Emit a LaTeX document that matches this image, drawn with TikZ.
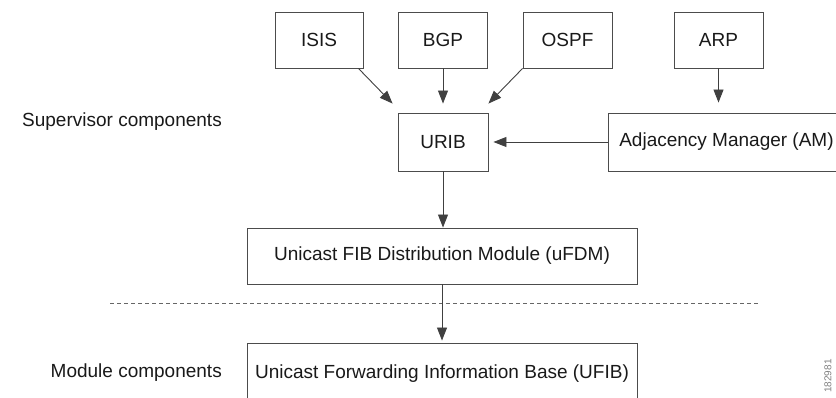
\documentclass[tikz,border=0pt]{standalone}
\usepackage{fontspec}
\setmainfont{Liberation Sans}
\usetikzlibrary{arrows.meta}

\begin{document}
\begin{tikzpicture}[x=1pt,y=-1pt,>={Triangle[length=13pt,width=10pt]},
    box/.style={draw=black!70,line width=0.9pt,inner sep=0pt,minimum height=56pt,text=black!90,font=\fontsize{19}{22}\selectfont},
    lbl/.style={text=black!90,font=\fontsize{19}{22}\selectfont,inner sep=0pt},
    link/.style={->,draw=black!75,line width=0.9pt}]
    \useasboundingbox (0,0) rectangle (836,398);
    \clip (0,0) rectangle (836,398);
    \node[box,minimum width=88pt] (isis) at (319,40) {ISIS};
    \node[box,minimum width=89pt] (bgp) at (443,40) {BGP};
    \node[box,minimum width=89pt] (ospf) at (567.5,40) {OSPF};
    \node[box,minimum width=89pt] (arp) at (718.5,40) {ARP};
    \node[box,minimum width=90pt,minimum height=58pt] (urib) at (443,142) {URIB};
    \node[box,minimum width=237pt,minimum height=58pt] (am) at (726.5,142) {Adjacency Manager (AM)};
    \node[box,minimum width=390pt] (ufdm) at (442,256) {Unicast FIB Distribution Module (uFDM)};
    \node[box,minimum width=390pt,minimum height=62pt] (ufib) at (442,374) {Unicast Forwarding Information Base (UFIB)};
    \node[lbl,anchor=east] (sup) at (222,122) {Supervisor components};
    \node[lbl,anchor=east] (mod) at (222,373) {Module components};
    \node[rotate=90,text=black!50,font=\fontsize{10}{10}\selectfont] (tag) at (828,376) {182981};
    \coordinate (sepl) at (110,303);
    \coordinate (sepr) at (760,303);
    \draw[black!60,line width=0.9pt,dash pattern=on 4pt off 3pt] (sepl) -- (sepr);
    \draw[link] ([xshift=-5pt]isis.south east) -- ([shift={(-5pt,9pt)}]urib.north west);
    \draw[link] (bgp.south) -- ([yshift=9pt]urib.north);
    \draw[link] (ospf.south west) -- ([yshift=9pt]urib.north east);
    \draw[link] (arp.south) -- ([yshift=10pt]arp.south |- am.north);
    \draw[link] (am.west) -- ([xshift=5pt]urib.east);
    \draw[link] (urib.south) -- (urib.south |- ufdm.north);
    \draw[link] (ufdm.south) -- ([yshift=2pt]ufdm.south |- ufib.north);
\end{tikzpicture}
\end{document}
